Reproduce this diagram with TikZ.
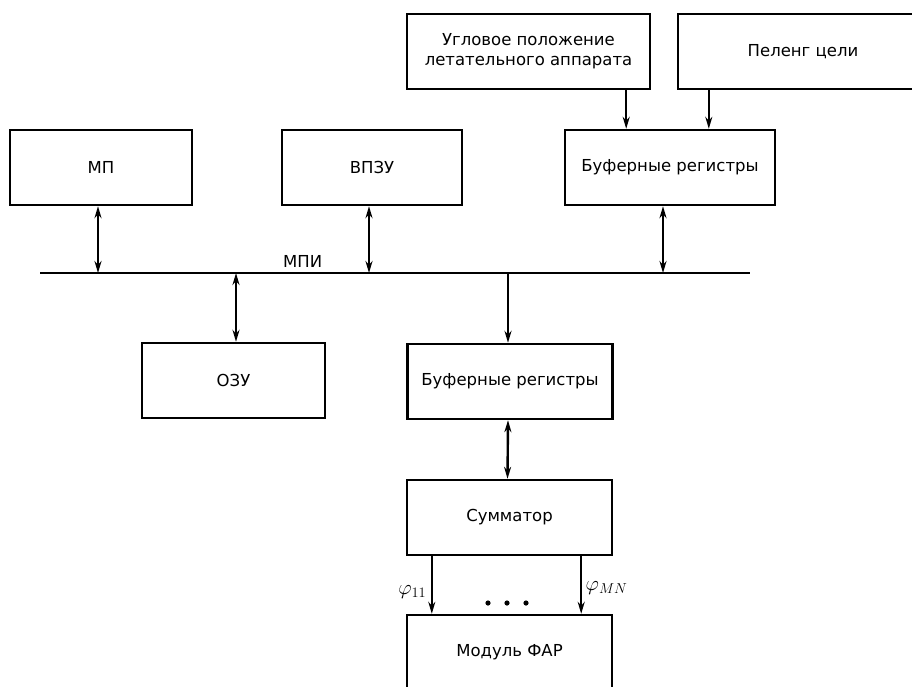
\documentclass[tikz,border=0pt]{standalone}
\usepackage{fontspec}
\setmainfont{DejaVu Sans}
\usepackage{tikz}
\usetikzlibrary{arrows.meta, positioning, calc}

\begin{document}
\begin{tikzpicture}[x=1pt, y=-1pt,
    blk/.style={draw, line width=2.4pt, minimum height=75pt, inner sep=0pt, font=\fontsize{16.5}{20}\selectfont, align=center},
    arr/.style={-{Stealth[length=12pt, width=7pt]}, line width=2.4pt},
    darr/.style={{Stealth[length=12pt, width=7pt]}-{Stealth[length=12pt, width=7pt]}, line width=2.4pt}]
    \useasboundingbox (0,0) rectangle (912,686);
    \clip (0,0) rectangle (912,686);

    \node[blk, minimum width=243pt] (angle) at (528.5,51.5) {Угловое положение\\летательного аппарата};
    \node[blk, minimum width=250pt] (bearing) at (803,51.5) {Пеленг цели};

    \node[blk, minimum width=182pt] (mp) at (101,167.5) {МП};
    \node[blk, minimum width=180pt] (rom) at (372,167.5) {ВПЗУ};
    \node[blk, minimum width=210pt] (bufin) at (670,167.5) {Буферные регистры};

    \coordinate (busl) at (40,273);
    \coordinate (busr) at (750,273);
    \draw[line width=2.8pt] (busl) -- (busr) node[pos=0.37, above=1pt, font=\fontsize{16.5}{20}\selectfont] (bus) {МПИ};

    \node[blk, minimum width=183pt] (ram) at (233.5,380.5) {ОЗУ};
    \node[blk, minimum width=205pt] (bufout) at (510,381.5) {Буферные регистры};
    \node[blk, minimum width=205pt] (sum) at (509.5,517.5) {Сумматор};
    \node[blk, minimum width=205pt] (far) at (509.5,652.5) {Модуль ФАР};

    % входные данные
    \draw[arr] ([xshift=-25pt]angle.south east) -- ([xshift=-25pt]angle.south east |- bufin.north);
    \draw[arr] ([xshift=32pt]bearing.south west) -- ([xshift=32pt]bearing.south west |- bufin.north);

    % обмен по магистрали
    \draw[darr] ([xshift=-3pt]mp.south) -- ([xshift=-3pt]mp.south |- busl);
    \draw[darr] ([xshift=-3pt]rom.south) -- ([xshift=-3pt]rom.south |- busl);
    \draw[darr] ([xshift=-7pt]bufin.south) -- ([xshift=-7pt]bufin.south |- busl);
    \draw[darr] ([xshift=2.5pt]ram.north |- busl) -- ([xshift=2.5pt]ram.north);
    \draw[arr] ([xshift=-2pt]bufout.north |- busl) -- ([xshift=-2pt]bufout.north);
    \draw[darr] ([xshift=-2pt]bufout.south) -- ([xshift=-2pt]sum.north);

    % фазы
    \draw[arr] ([xshift=26pt]sum.south west) -- ([xshift=26pt]far.north west)
        node[pos=0.62, left=1pt, font=\fontsize{20}{24}\selectfont] (phi1) {$\varphi_{11}$};
    \draw[arr] ([xshift=-32pt]sum.south east) -- ([xshift=-32pt]far.north east)
        node[pos=0.55, right=0pt, font=\fontsize{20}{24}\selectfont] (phin) {$\varphi_{MN}$};
    \foreach \x in {488,507,526}
        \fill (\x,603) circle (2.6pt);
\end{tikzpicture}
\end{document}
